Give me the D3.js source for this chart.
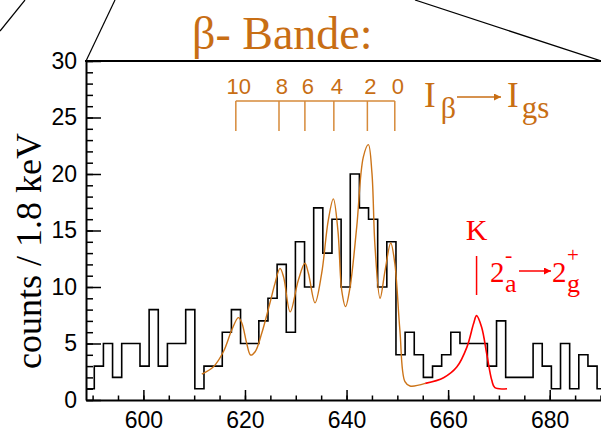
<!DOCTYPE html>
<html>
<head>
<meta charset="utf-8">
<script src="https://cdn.jsdelivr.net/npm/d3@7"></script>
<style>
body { margin: 0; background: #fff; }
</style>
</head>
<body>
<div id="chart"></div>
<script>
// histogram: 1.8 keV bins
var binStart = 588.53;
var binWidth = 1.8;
var counts = [1,3,5,2,5,5,3,8,3,5, 5,8,1,3,3,6,8,5,5,7, 9,12,6,14,10,17,13,16,10,20,
              17,16,10,14,4,6,4,2,3,4, 6,5,5,5,3,7,2,2,2,5, 3,1,5,1,4,3,1];

// orange fit
var fitE = [611.5,613.8,615.75,617.4,618.7,619.4,620.35,621.1,622.0,623.3,624.9,625.9,626.9,627.6,628.9,
            630.5,631.8,632.5,633.8,635.1,636.4,637.4,638.3,639.05,639.8,640.7,642.0,643.3,644.3,645.0,
            645.6,646.6,647.6,648.7,649.5,650.5,651.5,652.5,655.5];
var fitC = [2.3,2.95,4.27,6.19,7.29,6.8,5.0,3.98,4.27,5.9,8.56,10.3,11.65,10.9,7.8,
            10.6,12.1,11.2,8.6,11.2,15.9,17.8,15.0,9.7,8.26,10.0,15.3,21.5,22.6,20.1,
            13.6,9.0,11.5,13.9,12.1,6.2,1.62,1.24,1.47];

// red K peak
var kE = [655.5,659.1,661.7,663.7,665.0,665.6,666.6,667.6,668.6,669.2,671.6];
var kC = [1.47,1.97,2.91,4.68,6.74,7.47,6.44,4.09,1.74,1.09,1.0];
var kPos = 665.6;

// band members
var bandE = [618.2,626.7,631.8,637.5,644.1,649.5];
var bandLabels = ["10","8","6","4","2","0"];

var xMajor = [600,620,640,660,680];
var xMinor = d3.range(590,691,5);
var yMajor = [0,5,10,15,20,25,30];
var yMinor = d3.range(0,31,1);

var orange = "#c86e14";
var orangeLight = "#d68a3a";
var red = "#ff0000";
var sans = "'Liberation Sans', Arial, sans-serif";
var serif = "'Liberation Serif', 'Times New Roman', serif";

var width = 601, height = 434;

var x = d3.scaleLinear().domain([588.7, 690.1]).range([86, 601]);
var y = d3.scaleLinear().domain([0, 30]).range([400, 61]);

var svg = d3.select("#chart").append("svg")
	.attr("width", width)
	.attr("height", height);

svg.append("clipPath").attr("id","plotclip")
	.append("rect").attr("x", 86).attr("y", 40).attr("width", 520).attr("height", 362);

// connector lines from the parent figure
svg.append("line").attr("x1",0).attr("y1",31).attr("x2",25).attr("y2",0)
	.attr("stroke","#000").attr("stroke-width",1.2);
svg.append("line").attr("x1",x.range()[0]).attr("y1",y(30)).attr("x2",115).attr("y2",0)
	.attr("stroke","#000").attr("stroke-width",1.2);
svg.append("line").attr("x1",415).attr("y1",0).attr("x2",x.range()[1]).attr("y2",y(30))
	.attr("stroke","#000").attr("stroke-width",1.2);

// histogram
var histPts = counts.map(function(c,i){ return [binStart + i*binWidth, c]; });
histPts.push([binStart + counts.length*binWidth, counts[counts.length-1]]);

var stepLine = d3.line()
	.x(function(d){ return x(d[0]); })
	.y(function(d){ return y(d[1]); })
	.curve(d3.curveStepAfter);

var plot = svg.append("g").attr("clip-path","url(#plotclip)");

plot.append("path")
	.attr("d", stepLine(histPts))
	.attr("fill","none")
	.attr("stroke","#000")
	.attr("stroke-width",1.6);

var smooth = d3.line()
	.x(function(d){ return x(d[0]); })
	.y(function(d){ return y(d[1]); })
	.curve(d3.curveCatmullRom.alpha(0.5));

plot.append("path")
	.attr("d", smooth(fitE.map(function(e,i){ return [e, fitC[i]]; })))
	.attr("fill","none")
	.attr("stroke","#cc7418")
	.attr("stroke-width",1.4);

plot.append("path")
	.attr("d", smooth(kE.map(function(e,i){ return [e, kC[i]]; })))
	.attr("fill","none")
	.attr("stroke",red)
	.attr("stroke-width",1.6);

// axes
var xAxisG = svg.append("g").attr("transform","translate(0,"+y(0)+")");
xAxisG.append("g")
	.call(d3.axisBottom(x).tickValues(xMinor).tickSizeInner(-4.5).tickSizeOuter(0).tickFormat(""))
	.call(function(g){ g.select(".domain").remove(); });
xAxisG.append("g")
	.call(d3.axisBottom(x).tickValues(xMajor).tickSizeInner(-10).tickSizeOuter(0).tickPadding(12).tickFormat(d3.format("d")));

var yAxisG = svg.append("g").attr("transform","translate("+x.range()[0]+",0)");
yAxisG.append("g")
	.call(d3.axisLeft(y).tickValues(yMinor).tickSizeInner(-7).tickSizeOuter(0).tickFormat(""))
	.call(function(g){ g.select(".domain").remove(); });
yAxisG.append("g")
	.call(d3.axisLeft(y).tickValues(yMajor).tickSizeInner(-15).tickSizeOuter(0).tickPadding(9).tickFormat(d3.format("d")));

svg.selectAll(".domain").attr("stroke","#000").attr("stroke-width",2);
svg.selectAll(".tick line").attr("stroke","#000").attr("stroke-width",1.5);
svg.selectAll(".tick text").attr("fill","#000").attr("font-size",23).attr("font-family",sans);

// top frame line
svg.append("line")
	.attr("x1", x.range()[0]-1).attr("x2", x.range()[1])
	.attr("y1", y(30)).attr("y2", y(30))
	.attr("stroke","#000").attr("stroke-width",2);

// y label
svg.append("text")
	.attr("transform","translate(41,251) rotate(-90)")
	.attr("text-anchor","middle")
	.attr("font-family",serif).attr("font-size",36)
	.attr("fill","#000")
	.text("counts / 1.8 keV");

// title
svg.append("text")
	.attr("x",192).attr("y",49)
	.attr("font-family",serif).attr("font-size",46)
	.attr("fill",orange)
	.text("β- Bande:");

// band bracket
var band = svg.append("g");
band.append("line")
	.attr("x1", x(bandE[0])).attr("x2", x(bandE[bandE.length-1]))
	.attr("y1", 101).attr("y2", 101)
	.attr("stroke", orangeLight).attr("stroke-width",1.5);
band.selectAll(".bt").data(bandE).enter().append("line")
	.attr("x1", function(d){ return x(d); }).attr("x2", function(d){ return x(d); })
	.attr("y1", 101).attr("y2", 131)
	.attr("stroke", orangeLight).attr("stroke-width",1.5);
band.selectAll(".bl").data(bandE).enter().append("text")
	.attr("x", function(d){ return x(d)+3; })
	.attr("y", 94)
	.attr("text-anchor","middle")
	.attr("font-family",sans).attr("font-size",22)
	.attr("fill", orange)
	.text(function(d,i){ return bandLabels[i]; });

// arrow marker
var defs = svg.append("defs");
[["arrO",orange],["arrR",red]].forEach(function(a){
	defs.append("marker").attr("id",a[0])
		.attr("viewBox","0 0 10 10").attr("refX",10).attr("refY",5)
		.attr("markerWidth",10).attr("markerHeight",7).attr("markerUnits","userSpaceOnUse")
		.attr("orient","auto")
		.append("path").attr("d","M0,0L10,5L0,10Z").attr("fill",a[1]);
});

// I_beta -> I_gs
var ib = svg.append("g").attr("fill",orange).attr("font-family",serif);
var t1 = ib.append("text").attr("x",424).attr("y",107).attr("font-size",35);
t1.append("tspan").text("I");
t1.append("tspan").attr("dx",5).attr("dy",11).attr("font-size",30).text("β");
ib.append("line").attr("x1",457).attr("x2",501).attr("y1",97).attr("y2",97)
	.attr("stroke",orange).attr("stroke-width",1.5).attr("marker-end","url(#arrO)");
var t2 = ib.append("text").attr("x",507).attr("y",107).attr("font-size",35);
t2.append("tspan").text("I");
t2.append("tspan").attr("dx",3).attr("dy",11).attr("font-size",31).text("gs");

// K annotation
var k = svg.append("g").attr("fill",red).attr("font-family",serif);
k.append("text").attr("x",x(kPos)).attr("y",240).attr("text-anchor","middle")
	.attr("font-size",30).text("K");
k.append("line").attr("x1",x(kPos)).attr("x2",x(kPos)).attr("y1",256).attr("y2",295)
	.attr("stroke",red).attr("stroke-width",1.5);
k.append("text").attr("x",490).attr("y",282).attr("font-size",29).text("2");
k.append("text").attr("x",505).attr("y",262).attr("font-size",22).text("-");
k.append("text").attr("x",505).attr("y",292).attr("font-size",26).text("a");
k.append("line").attr("x1",519).attr("x2",551).attr("y1",271).attr("y2",271)
	.attr("stroke",red).attr("stroke-width",1.5).attr("marker-end","url(#arrR)");
k.append("text").attr("x",552).attr("y",282).attr("font-size",29).text("2");
k.append("text").attr("x",567).attr("y",262).attr("font-size",21).text("+");
k.append("text").attr("x",567).attr("y",292).attr("font-size",26).text("g");
</script>
</body>
</html>
